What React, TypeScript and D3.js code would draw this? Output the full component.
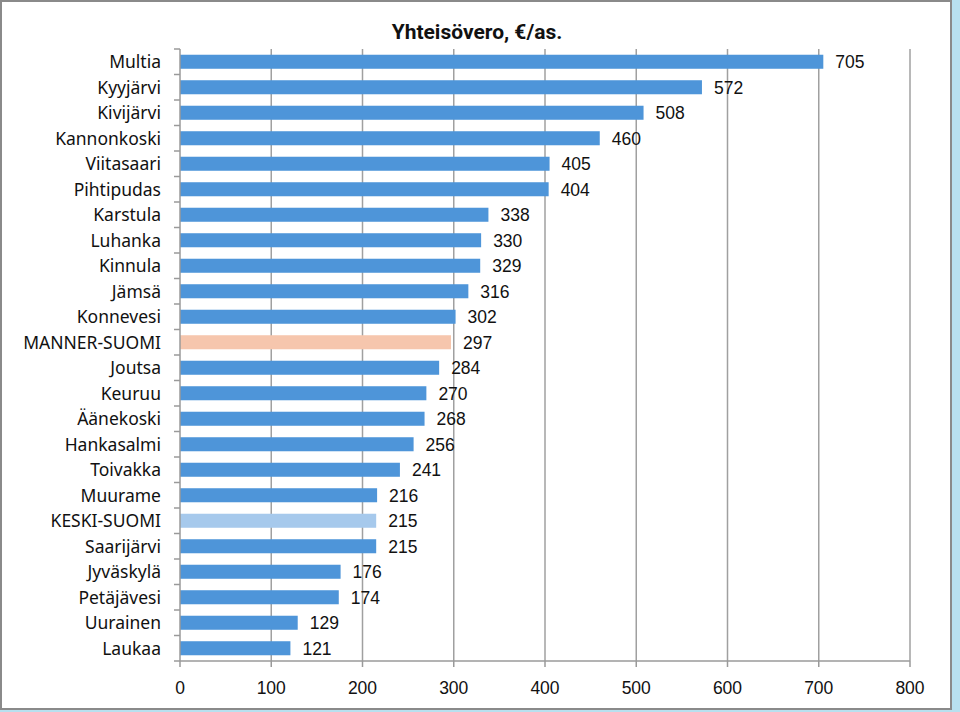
import React, { useEffect, useRef } from 'react';
import * as d3 from 'd3';

const categories = [
    'Multia', 'Kyyjärvi', 'Kivijärvi', 'Kannonkoski', 'Viitasaari', 'Pihtipudas',
    'Karstula', 'Luhanka', 'Kinnula', 'Jämsä', 'Konnevesi', 'MANNER-SUOMI',
    'Joutsa', 'Keuruu', 'Äänekoski', 'Hankasalmi', 'Toivakka', 'Muurame',
    'KESKI-SUOMI', 'Saarijärvi', 'Jyväskylä', 'Petäjävesi', 'Uurainen', 'Laukaa',
];
const values = [705, 572, 508, 460, 405, 404, 338, 330, 329, 316, 302, 297, 284, 270, 268, 256, 241, 216, 215, 215, 176, 174, 129, 121];
const xTicks = [0, 100, 200, 300, 400, 500, 600, 700, 800];

const W = 960;
const H = 712;

const App = () => {
    const svgRef = useRef<SVGSVGElement | null>(null);

    useEffect(() => {
        if (!svgRef.current) return;
        const svg = d3.select(svgRef.current);
        svg.selectAll('*').remove();

        const data = categories.map((c, i) => ({ name: c, value: values[i] }));

        // background + frame
        svg.append('rect').attr('x', 0).attr('y', 0).attr('width', W).attr('height', H).attr('fill', '#b8e0ef');
        svg.append('rect').attr('x', 1).attr('y', 1).attr('width', 950).attr('height', 708)
            .attr('fill', '#fff').attr('stroke', '#8a8a8a').attr('stroke-width', 2);

        const left = 180, right = 910, top = 49, bottom = 661;
        const x = d3.scaleLinear().domain([0, 800]).range([left, right]);
        const y = d3.scaleBand().domain(categories).range([top, bottom]).paddingInner(0.45).paddingOuter(0.225);
        const band = (bottom - top) / categories.length;

        // gridlines
        svg.append('g').selectAll('line').data(xTicks.slice(1)).enter().append('line')
            .attr('x1', (d) => x(d)).attr('x2', (d) => x(d))
            .attr('y1', top).attr('y2', bottom)
            .attr('stroke', '#a0a0a0').attr('stroke-width', 1.5);

        const getFill = (d: any) => {
            if (d.name === 'MANNER-SUOMI') return '#f6c6ad';
            if (d.name === 'KESKI-SUOMI') return '#a6c9ec';
            return '#4e95d9';
        };

        svg.append('g').selectAll('rect').data(data).enter().append('rect')
            .attr('x', x(0))
            .attr('y', (d) => y(d.name)!)
            .attr('width', (d) => x(d.value) - x(0))
            .attr('height', y.bandwidth())
            .attr('fill', (d) => getFill(d));

        // value labels
        svg.append('g').selectAll('text').data(data).enter().append('text')
            .attr('x', (d) => x(d.value) + 12)
            .attr('y', (d) => y(d.name)! + y.bandwidth() / 2)
            .attr('dy', '0.36em')
            .attr('font-family', 'Liberation Sans, Arial, sans-serif')
            .attr('font-size', 17.5)
            .attr('fill', '#111')
            .text((d) => d.value);

        // y axis
        const axisColor = '#9a9a9a';
        svg.append('line').attr('x1', left).attr('x2', left).attr('y1', top).attr('y2', bottom)
            .attr('stroke', axisColor).attr('stroke-width', 1.5);
        svg.append('g').selectAll('line').data(d3.range(categories.length + 1)).enter().append('line')
            .attr('x1', left - 6).attr('x2', left)
            .attr('y1', (i) => top + i * band).attr('y2', (i) => top + i * band)
            .attr('stroke', axisColor).attr('stroke-width', 1.5);
        svg.append('g').selectAll('text').data(categories).enter().append('text')
            .attr('x', left - 19)
            .attr('y', (d) => y(d)! + y.bandwidth() / 2)
            .attr('dy', '0.36em')
            .attr('text-anchor', 'end')
            .attr('font-family', 'Noto Sans, Open Sans, sans-serif')
            .attr('font-size', 17.5)
            .attr('fill', '#111')
            .text((d) => d);

        // x axis
        svg.append('line').attr('x1', left).attr('x2', right).attr('y1', bottom).attr('y2', bottom)
            .attr('stroke', axisColor).attr('stroke-width', 1.5);
        svg.append('g').selectAll('line').data(xTicks).enter().append('line')
            .attr('x1', (d) => x(d)).attr('x2', (d) => x(d))
            .attr('y1', bottom).attr('y2', bottom + 6)
            .attr('stroke', axisColor).attr('stroke-width', 1.5);
        svg.append('g').selectAll('text').data(xTicks).enter().append('text')
            .attr('x', (d) => x(d))
            .attr('y', 688)
            .attr('dy', '0.36em')
            .attr('text-anchor', 'middle')
            .attr('font-family', 'Liberation Sans, Arial, sans-serif')
            .attr('font-size', 17.5)
            .attr('fill', '#111')
            .text((d) => d);

        // title
        svg.append('text')
            .attr('x', 477).attr('y', 31)
            .attr('dy', '0.36em')
            .attr('text-anchor', 'middle')
            .attr('font-family', 'Roboto, Liberation Sans, sans-serif')
            .attr('font-weight', 'bold')
            .attr('font-size', 21)
            .attr('fill', '#111')
            .text('Yhteisövero, €/as.');
    }, []);

    return (
        <svg ref={svgRef} width={W} height={H} style={{ position: 'absolute', left: 0, top: 0 }}></svg>
    );
};

export default App;
